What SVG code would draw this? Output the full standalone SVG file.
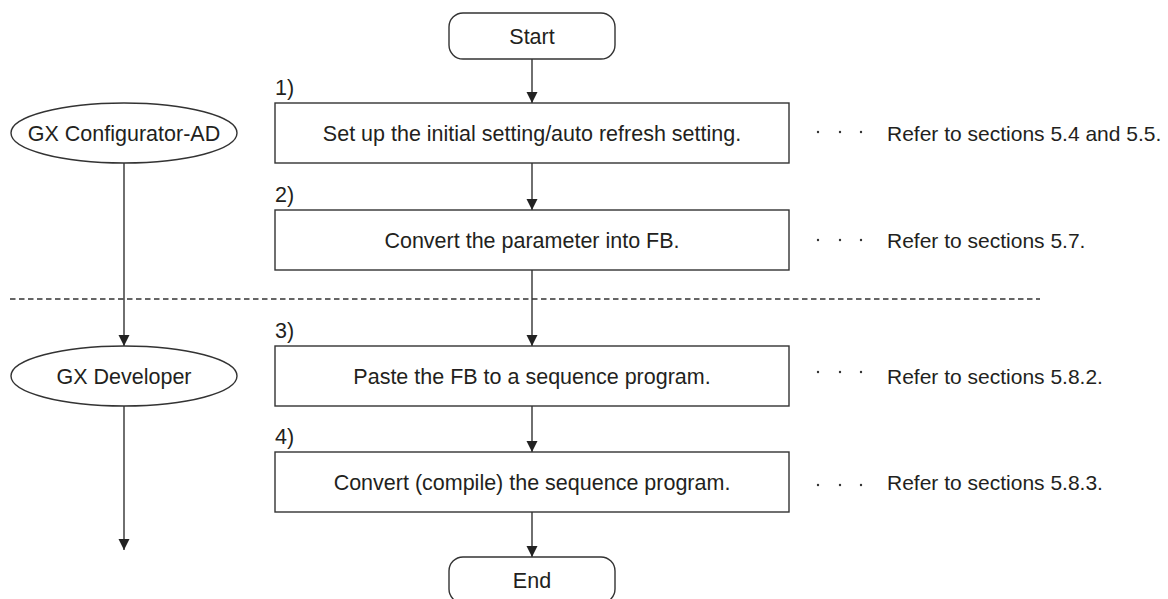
<svg xmlns="http://www.w3.org/2000/svg" width="1168" height="599" viewBox="0 0 1168 599">
<defs>
<marker id="ah" markerUnits="userSpaceOnUse" markerWidth="11" markerHeight="12" refX="11" refY="5.5" orient="auto">
<path d="M0,0 L11,5.5 L0,11 Z" fill="#222"/>
</marker>
<style>
.t{font-family:"Liberation Sans",Arial,sans-serif;font-size:21.5px;fill:#231f20}
.r{font-size:21px}
.m{text-anchor:middle}
.b{fill:#fff;stroke:#333;stroke-width:1.4}
.c{stroke:#333;stroke-width:1.4;fill:none;marker-end:url(#ah)}
.d{fill:#333}
</style>
</defs>
<rect width="1168" height="599" fill="#fff"/>
<line x1="10" y1="299" x2="1040" y2="299" stroke="#333" stroke-width="1.3" stroke-dasharray="5.5 3.5"/>
<g id="connectors">
<line class="c" x1="532" y1="59" x2="532" y2="103"/>
<line class="c" x1="532" y1="163" x2="532" y2="210"/>
<line class="c" x1="532" y1="270" x2="532" y2="346"/>
<line class="c" x1="532" y1="406" x2="532" y2="452"/>
<line class="c" x1="532" y1="512" x2="532" y2="557"/>
<line class="c" x1="124" y1="163" x2="124" y2="346"/>
<line class="c" x1="124" y1="406" x2="124" y2="550"/>
</g>
<g id="start">
<rect class="b" x="449" y="13" width="166" height="46" rx="14"/>
<text class="t m" x="532" y="43.5">Start</text>
</g>
<g id="step1">
<text class="t" x="275" y="95">1)</text>
<rect class="b" x="275" y="103" width="514" height="60"/>
<text class="t m" x="532" y="140.5">Set up the initial setting/auto refresh setting.</text>
</g>
<g id="step2">
<text class="t" x="275" y="202">2)</text>
<rect class="b" x="275" y="210" width="514" height="60"/>
<text class="t m" x="532" y="247.5">Convert the parameter into FB.</text>
</g>
<g id="step3">
<text class="t" x="275" y="338">3)</text>
<rect class="b" x="275" y="346" width="514" height="60"/>
<text class="t m" x="532" y="383.5">Paste the FB to a sequence program.</text>
</g>
<g id="step4">
<text class="t" x="275" y="444">4)</text>
<rect class="b" x="275" y="452" width="514" height="60"/>
<text class="t m" x="532" y="489.5">Convert (compile) the sequence program.</text>
</g>
<g id="end">
<rect class="b" x="449" y="557" width="166" height="46" rx="14"/>
<text class="t m" x="532" y="588">End</text>
</g>
<g id="gx-configurator">
<ellipse class="b" cx="124" cy="133" rx="113" ry="30"/>
<text class="t m" x="124" y="140.5">GX Configurator-AD</text>
</g>
<g id="gx-developer">
<ellipse class="b" cx="124" cy="376" rx="113" ry="30"/>
<text class="t m" x="124" y="383.5">GX Developer</text>
</g>
<g id="ref1">
<circle class="d" cx="818" cy="132" r="1.2"/><circle class="d" cx="840" cy="132" r="1.2"/><circle class="d" cx="861" cy="132" r="1.2"/>
<text class="t r" x="887" y="140.5">Refer to sections 5.4 and 5.5.</text>
</g>
<g id="ref2">
<circle class="d" cx="818" cy="240" r="1.2"/><circle class="d" cx="840" cy="240" r="1.2"/><circle class="d" cx="861" cy="240" r="1.2"/>
<text class="t r" x="887" y="247.5">Refer to sections 5.7.</text>
</g>
<g id="ref3">
<circle class="d" cx="818" cy="372" r="1.2"/><circle class="d" cx="840" cy="372" r="1.2"/><circle class="d" cx="861" cy="372" r="1.2"/>
<text class="t r" x="887" y="383.5">Refer to sections 5.8.2.</text>
</g>
<g id="ref4">
<circle class="d" cx="818" cy="485" r="1.2"/><circle class="d" cx="840" cy="485" r="1.2"/><circle class="d" cx="861" cy="485" r="1.2"/>
<text class="t r" x="887" y="489.5">Refer to sections 5.8.3.</text>
</g>
</svg>
